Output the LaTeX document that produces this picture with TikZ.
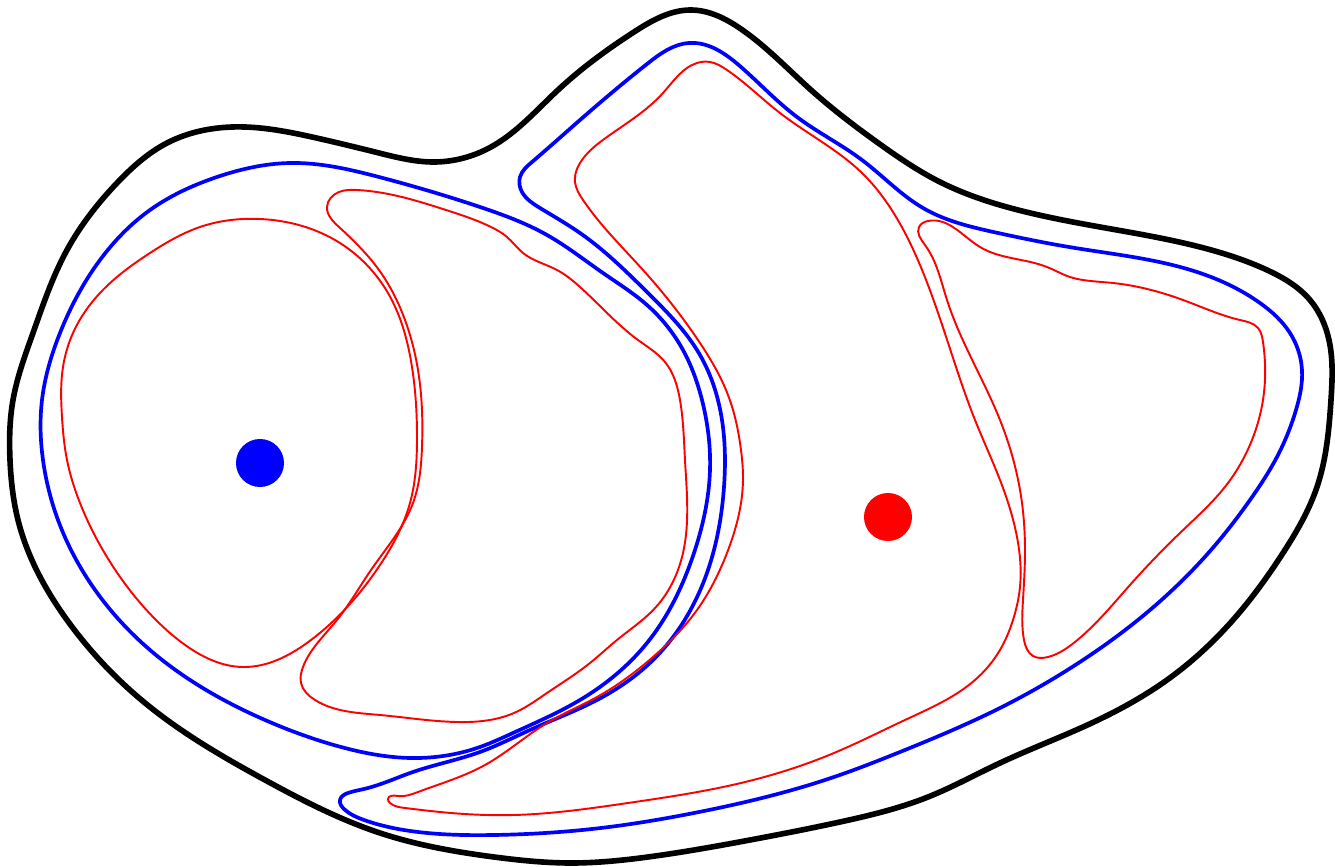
\documentclass[tikz,border=0pt]{standalone}
\usepackage{xcolor}
\usepackage{tikz}
\usetikzlibrary{positioning,hobby}
\tikzset{
  outerline/.style={draw=black, line width=1.6pt, line join=round},
  levelline/.style={draw=#1, line width=1.05pt, line join=round},
  levelline/.default=blue,
  thinline/.style={draw=#1, line width=0.55pt, line join=round},
  thinline/.default=red,
  spot/.style={circle, fill=#1, inner sep=0pt, minimum size=0.48cm},
  spot/.default=blue,
}
\begin{document}
\begin{tikzpicture}[x=0.01cm, y=-0.01cm]
  \useasboundingbox (0,0) rectangle (1335,867);

  % ── Outer boundary ────────────────
  \draw[outerline] plot[closed hobby] coordinates {
    (691,10) (741,29) (811,90) (881,145) (938,181) (1022,211) (1100,227)
    (1200,247) (1267,270) (1310,300) (1329,340) (1331,400) (1317,487)
    (1283,553) (1233,620) (1167,680) (1083,727) (1000,763) (928,797)
    (840,822) (750,840) (648,857) (571,863) (494,857) (380,833)
    (265,780) (150,707) (67,620) (18,520) (10,460) (13,400) (33,333)
    (67,250) (117,183) (167,143) (245,127) (312,137) (379,153) (433,162)
    (491,147) (558,90) (634,32)};

  % ── Blue level lines ────────────────
  \draw[levelline] plot[closed hobby] coordinates {
    (689,43) (741,67) (797,117) (862,160) (923,208) (998,233) (1069,247)
    (1200,273) (1260,303) (1290,333) (1302,370) (1296,410) (1278,455)
    (1250,500) (1217,543) (1150,610) (1083,660) (1000,708) (900,752)
    (834,777) (694,813) (609,827) (494,835) (418,832) (364,820)
    (344,809) (340,800) (348,793) (364,789) (413,772) (480,752)
    (530,730) (597,700) (653,660) (708,570) (724,487) (722,420)
    (700,355) (647,292) (580,233) (540,208) (522,192) (520,177) (532,162)
    (580,120) (647,64)};
  \draw[levelline] plot[closed hobby] coordinates {
    (290,163) (379,177) (480,207) (547,235) (603,273) (647,305) (683,350)
    (702,400) (710,470) (694,553) (647,643) (580,700) (513,733)
    (480,747) (410,758) (341,747) (265,720) (150,650) (58,520)
    (43,460) (42,400) (60,333) (100,260) (150,210) (217,177)};

  % ── Red level lines ────────────────
  \draw[thinline] plot[closed hobby] coordinates {
    (260,219) (335,240) (388,293) (412,367) (417,440) (410,503) (380,565)
    (311,640) (242,667) (188,647) (156,620) (112,565) (80,503) (67,460)
    (62,417) (63,367) (73,333) (100,293) (150,253) (200,227)};
  \draw[thinline] plot[closed hobby] coordinates {
    (327,207) (339,192) (357,190) (446,210) (491,227) (507,237) (523,253)
    (557,270) (580,287) (638,340) (665,362) (680,400) (685,460) (683,553)
    (656,607) (617,640) (590,663) (547,693) (514,713) (456,722)
    (380,715) (315,700) (301,683) (303,667) (337,620) (371,570)
    (413,503) (422,447) (418,370) (405,320) (379,270) (339,227)};
  \draw[thinline] plot[closed hobby] coordinates {
    (575,182) (582,160) (607,137) (663,93) (697,63) (710,62) (727,70)
    (780,113) (862,173) (893,212) (920,265) (956,367) (975,420)
    (1000,480) (1017,537) (1020,587) (1013,620) (1000,650) (975,680)
    (905,720) (834,753) (741,783) (628,803) (514,815) (440,812)
    (405,808) (390,803) (388,799) (398,796) (418,792) (485,765)
    (547,723) (597,697) (653,657) (697,610) (727,553) (743,480)
    (741,450) (728,395) (700,343) (643,270) (583,200)};
  \draw[thinline] plot[closed hobby] coordinates {
    (919,227) (928,221) (980,247) (1047,267) (1070,277) (1083,280)
    (1113,283) (1183,300) (1240,320) (1258,328) (1263,342) (1263,400)
    (1252,440) (1228,483) (1180,533) (1130,585) (1075,642) (1048,657)
    (1033,656) (1024,640) (1023,600) (1025,553) (1022,503) (1000,420)
    (947,300) (925,245)};

  % ── Critical points ────────────────
  \node[spot] (bluept) at (260,463) {};
  \node[spot=red] (redpt) at (888,517) {};
\end{tikzpicture}
\end{document}
